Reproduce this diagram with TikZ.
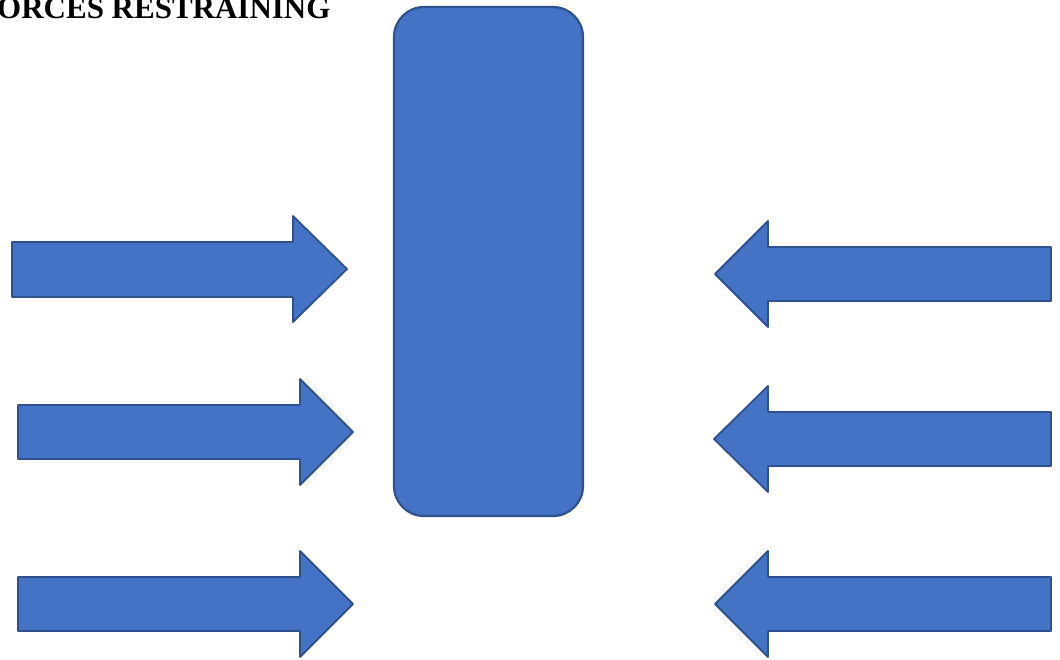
\documentclass[tikz,border=0pt]{standalone}
\usepackage{fontspec}
\setmainfont{Liberation Serif}
\usetikzlibrary{positioning}
\definecolor{forcefill}{HTML}{4472C4}
\definecolor{forcedraw}{HTML}{2F528F}

\begin{document}
\begin{tikzpicture}[x=1pt,y=-1pt, every node/.style={font=\bfseries},
  force/.style={fill=forcefill,draw=forcedraw,line width=1.8pt,line join=round}]
  \useasboundingbox (0,0) rectangle (1060,659);
  \node[anchor=base west,inner sep=0pt,font=\bfseries\fontsize{31}{37}\selectfont] (title) at (-3,18.5) {ORCES RESTRAINING};
  \node[force,line width=2.2pt,rounded corners=30pt,minimum width=189pt,minimum height=509pt,inner sep=0pt] (field) at (488.5,261.5) {};

  % driving forces
  \draw[force] (12,242) -- (293,242) -- (293,216) -- (347,269) -- (293,322) -- (293,297) -- (12,297) -- cycle;
  \draw[force] (18,405) -- (300,405) -- (300,379) -- (353,432) -- (300,485) -- (300,459) -- (18,459) -- cycle;
  \draw[force] (18,577) -- (300,577) -- (300,551) -- (353,604) -- (300,657) -- (300,631) -- (18,631) -- cycle;

  % restraining forces
  \draw[force] (1051,247) -- (768,247) -- (768,221) -- (715,274) -- (768,327) -- (768,301) -- (1051,301) -- cycle;
  \draw[force] (1051,412) -- (768,412) -- (768,386) -- (714,439) -- (768,492) -- (768,466) -- (1051,466) -- cycle;
  \draw[force] (1051,577) -- (768,577) -- (768,551) -- (715,604) -- (768,657) -- (768,631) -- (1051,631) -- cycle;
\end{tikzpicture}
\end{document}
